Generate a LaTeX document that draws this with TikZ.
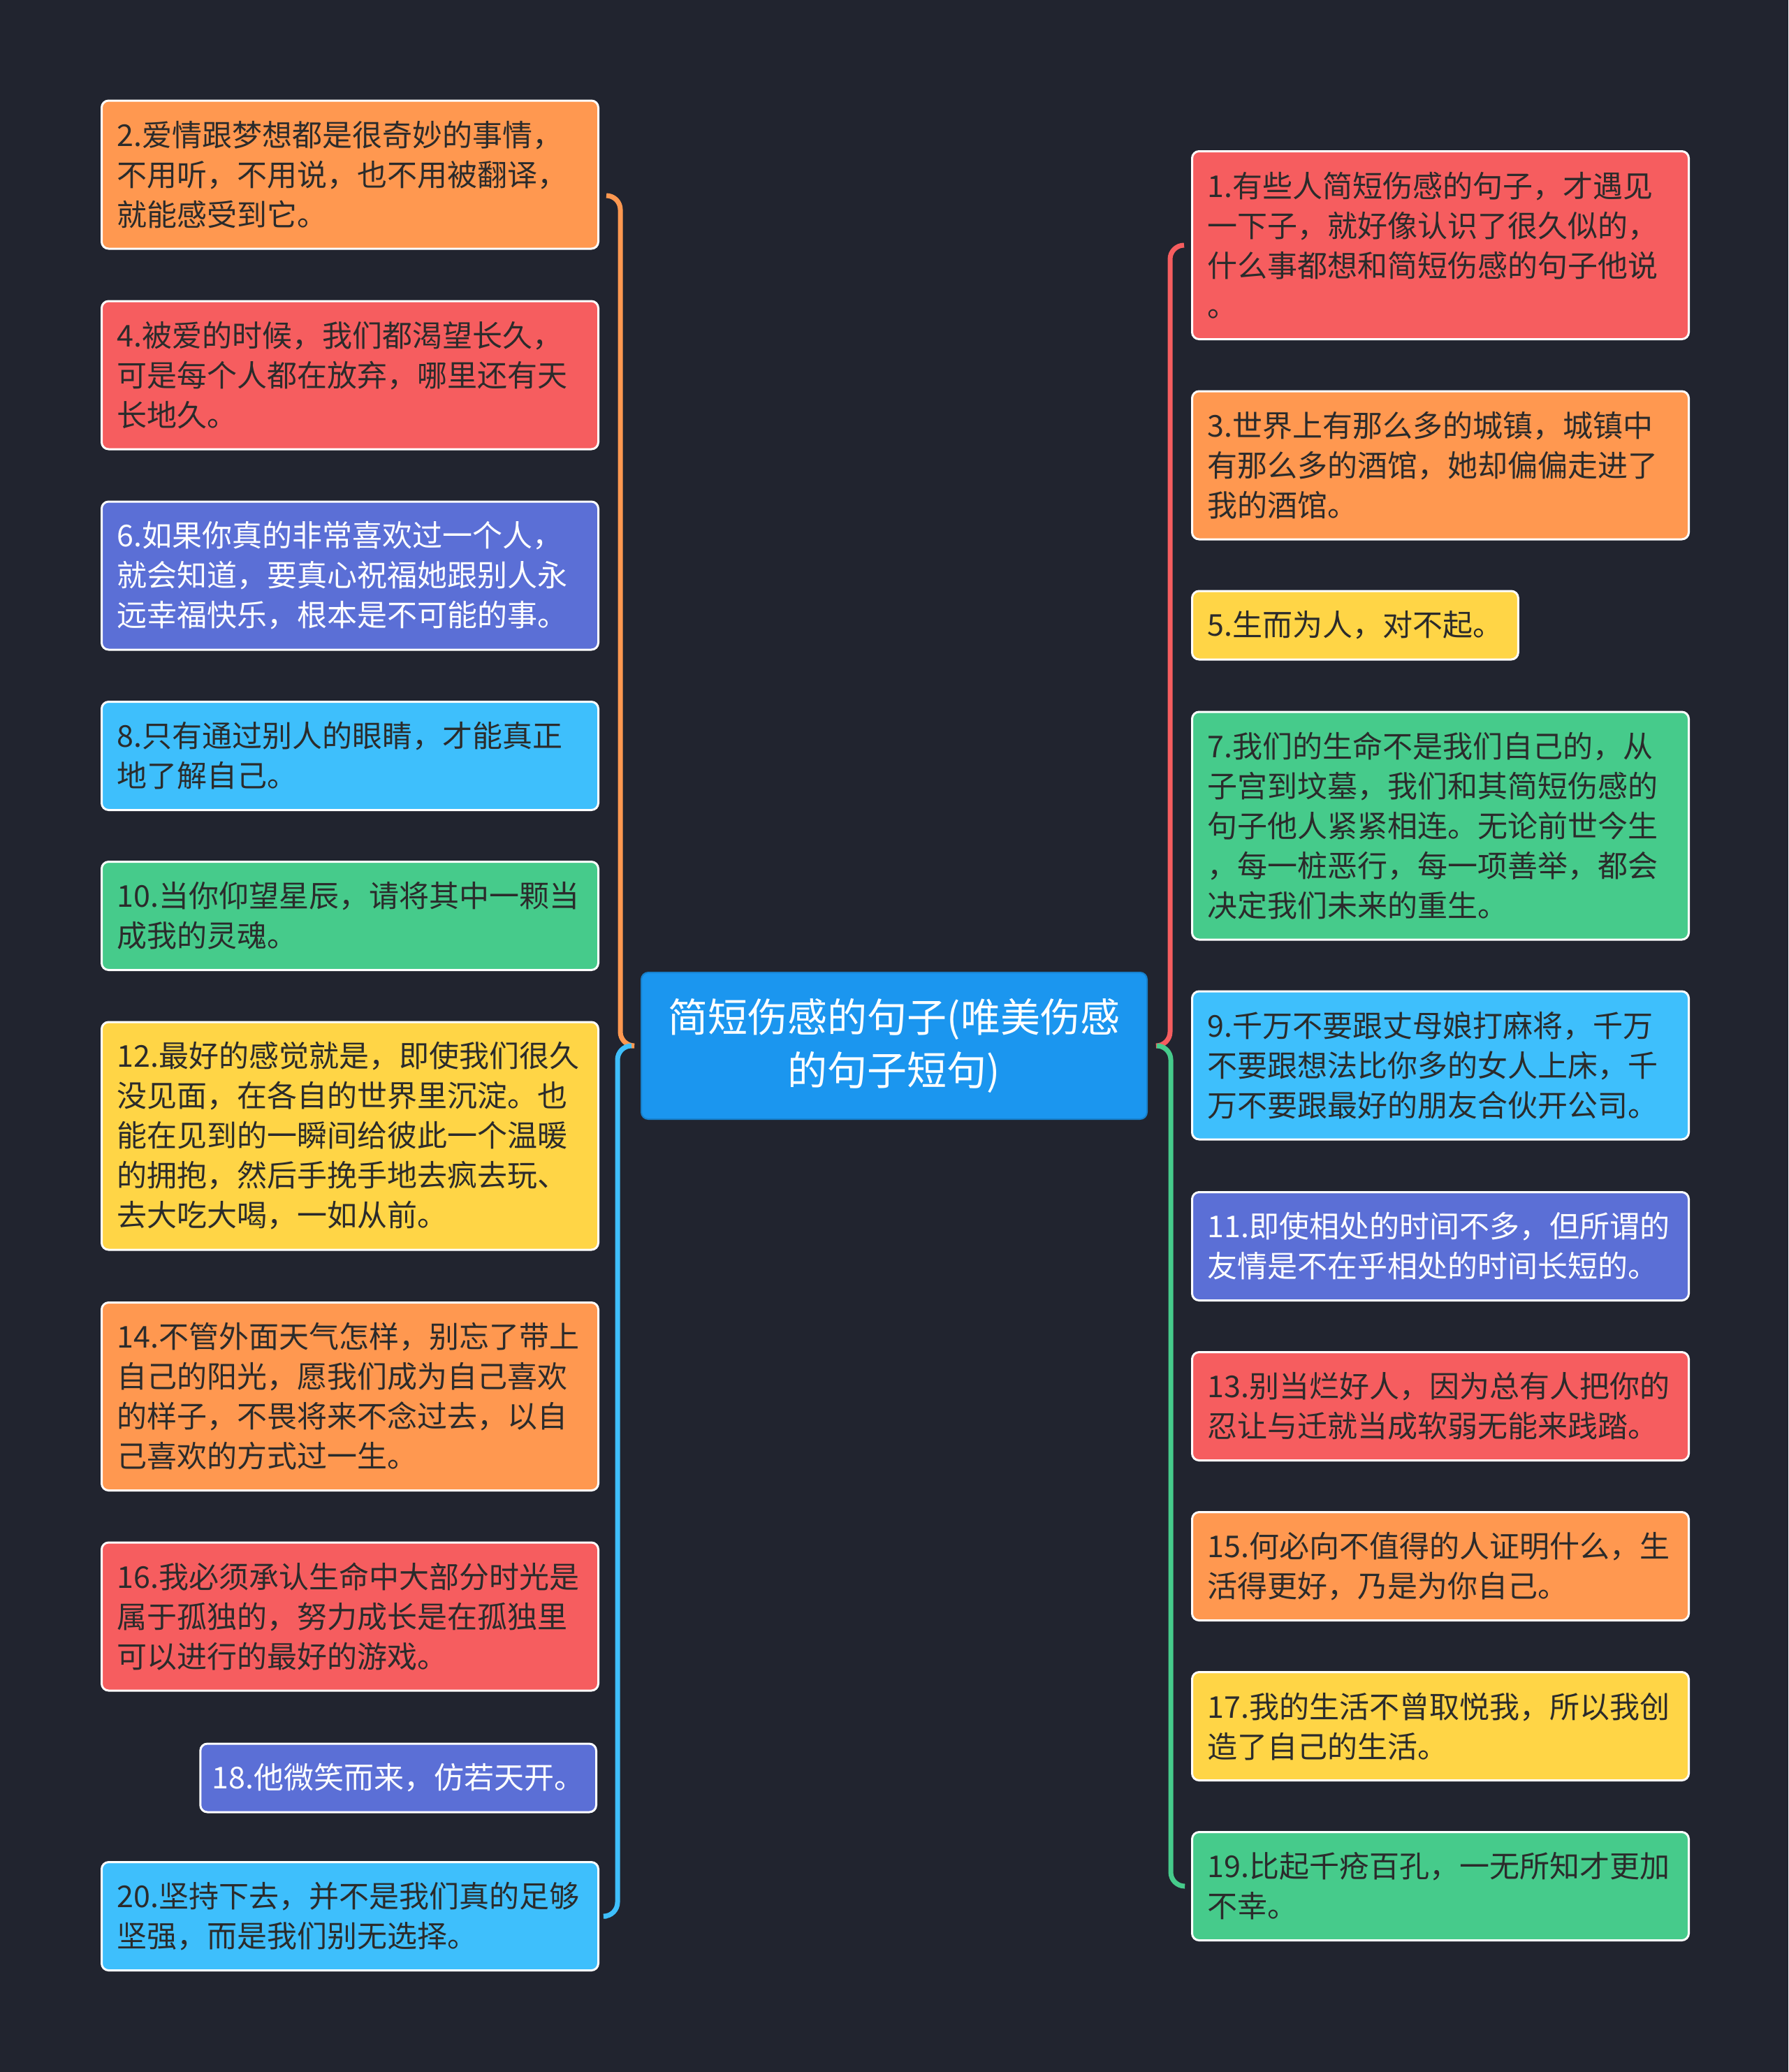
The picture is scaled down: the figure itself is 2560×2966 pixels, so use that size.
\documentclass[tikz,border=0pt]{standalone}
\usepackage{fontspec}
\setmainfont{Noto Sans CJK SC}
\definecolor{cbg}{HTML}{21242F}
\definecolor{corange}{HTML}{FF9850}
\definecolor{cred}{HTML}{F65D5F}
\definecolor{cindigo}{HTML}{5B6FD6}
\definecolor{csky}{HTML}{3EBFFC}
\definecolor{cgreen}{HTML}{46CB8B}
\definecolor{cyellow}{HTML}{FFD546}
\definecolor{croot}{HTML}{1B96EF}
\definecolor{ctext}{HTML}{2B2B2B}
\tikzset{
  leaf/.style={rounded corners=10pt, draw=white, line width=3pt, text=ctext,
    inner xsep=22pt, inner ysep=6pt, align=left,
    font=\fontsize{43pt}{57pt}\selectfont},
  wide/.style={text width=667pt},
  nlines/.style={minimum height={#1*57pt+41pt}},
  brace/.style={line width=7pt, rounded corners=20pt},
}
\begin{document}
\begin{tikzpicture}[x=1pt, y=-1pt]
    \fill[cbg] (0,0) rectangle (2560,2966);
    \useasboundingbox (0,0) rectangle (2560,2966);
    % centre
    \node[fill=croot, draw=croot!85!black, line width=2pt, rounded corners=10pt,
          minimum width=724pt, minimum height=210pt, text=white, align=center,
          font=\fontsize{57pt}{76pt}\selectfont] (root) at (1280,1497)
          {简短伤感的句子(唯美伤感\\的句子短句)};
    % left column
    \node[leaf, wide, nlines=3, fill=corange, anchor=west] (s2) at (144,250)
          {2.爱情跟梦想都是很奇妙的事情，\\不用听，不用说，也不用被翻译，\\就能感受到它。};
    \node[leaf, wide, nlines=3, fill=cred, anchor=west] (s4) at (144,537)
          {4.被爱的时候，我们都渴望长久，\\可是每个人都在放弃，哪里还有天\\长地久。};
    \node[leaf, wide, nlines=3, fill=cindigo, text=white, anchor=west] (s6) at (144,824)
          {6.如果你真的非常喜欢过一个人，\\就会知道，要真心祝福她跟别人永\\远幸福快乐，根本是不可能的事。};
    \node[leaf, wide, nlines=2, fill=csky, anchor=west] (s8) at (144,1082)
          {8.只有通过别人的眼睛，才能真正\\地了解自己。};
    \node[leaf, wide, nlines=2, fill=cgreen, anchor=west] (s10) at (144,1311)
          {10.当你仰望星辰，请将其中一颗当\\成我的灵魂。};
    \node[leaf, wide, nlines=5, fill=cyellow, anchor=west] (s12) at (144,1626)
          {12.最好的感觉就是，即使我们很久\\没见面，在各自的世界里沉淀。也\\能在见到的一瞬间给彼此一个温暖\\的拥抱，然后手挽手地去疯去玩、\\去大吃大喝，一如从前。};
    \node[leaf, wide, nlines=4, fill=corange, anchor=west] (s14) at (144,1999)
          {14.不管外面天气怎样，别忘了带上\\自己的阳光，愿我们成为自己喜欢\\的样子，不畏将来不念过去，以自\\己喜欢的方式过一生。};
    \node[leaf, wide, nlines=3, fill=cred, anchor=west] (s16) at (144,2314)
          {16.我必须承认生命中大部分时光是\\属于孤独的，努力成长是在孤独里\\可以进行的最好的游戏。};
    \node[leaf, nlines=1, fill=cindigo, text=white, inner xsep=17pt, anchor=east] (s18) at (855,2545)
          {18.他微笑而来，仿若天开。};
    \node[leaf, wide, nlines=2, fill=csky, anchor=west] (s20) at (144,2743)
          {20.坚持下去，并不是我们真的足够\\坚强，而是我们别无选择。};
    % right column
    \node[leaf, wide, nlines=4, fill=cred, anchor=west] (s1) at (1705,351)
          {1.有些人简短伤感的句子，才遇见\\一下子，就好像认识了很久似的，\\什么事都想和简短伤感的句子他说\\。};
    \node[leaf, wide, nlines=3, fill=corange, anchor=west] (s3) at (1705,666)
          {3.世界上有那么多的城镇，城镇中\\有那么多的酒馆，她却偏偏走进了\\我的酒馆。};
    \node[leaf, nlines=1, fill=cyellow, anchor=west] (s5) at (1705,895)
          {5.生而为人，对不起。};
    \node[leaf, wide, nlines=5, fill=cgreen, anchor=west] (s7) at (1705,1182)
          {7.我们的生命不是我们自己的，从\\子宫到坟墓，我们和其简短伤感的\\句子他人紧紧相连。无论前世今生\\，每一桩恶行，每一项善举，都会\\决定我们未来的重生。};
    \node[leaf, wide, nlines=3, fill=csky, anchor=west] (s9) at (1705,1525)
          {9.千万不要跟丈母娘打麻将，千万\\不要跟想法比你多的女人上床，千\\万不要跟最好的朋友合伙开公司。};
    \node[leaf, wide, nlines=2, fill=cindigo, text=white, anchor=west] (s11) at (1705,1784)
          {11.即使相处的时间不多，但所谓的\\友情是不在乎相处的时间长短的。};
    \node[leaf, wide, nlines=2, fill=cred, anchor=west] (s13) at (1705,2013)
          {13.别当烂好人，因为总有人把你的\\忍让与迁就当成软弱无能来践踏。};
    \node[leaf, wide, nlines=2, fill=corange, anchor=west] (s15) at (1705,2242)
          {15.何必向不值得的人证明什么，生\\活得更好，乃是为你自己。};
    \node[leaf, wide, nlines=2, fill=cyellow, anchor=west] (s17) at (1705,2471)
          {17.我的生活不曾取悦我，所以我创\\造了自己的生活。};
    \node[leaf, wide, nlines=2, fill=cgreen, anchor=west] (s19) at (1705,2700)
          {19.比起千疮百孔，一无所知才更加\\不幸。};
    % braces
    \draw[brace, corange] ([shift={(10,30)}]s2.east) -- ++(20,0) |- ([xshift=-13pt]root.west);
    \draw[brace, csky] ([xshift=-13pt]root.west) -- ++(-20,0) |- ([xshift=10pt]s20.east);
    \draw[brace, cred] ([xshift=-10pt]s1.west) -- ++(-20,0) |- ([xshift=13pt]root.east);
    \draw[brace, cgreen] ([xshift=13pt]root.east) -- ++(20,0) |- ([xshift=-10pt]s19.west);
\end{tikzpicture}
\end{document}
